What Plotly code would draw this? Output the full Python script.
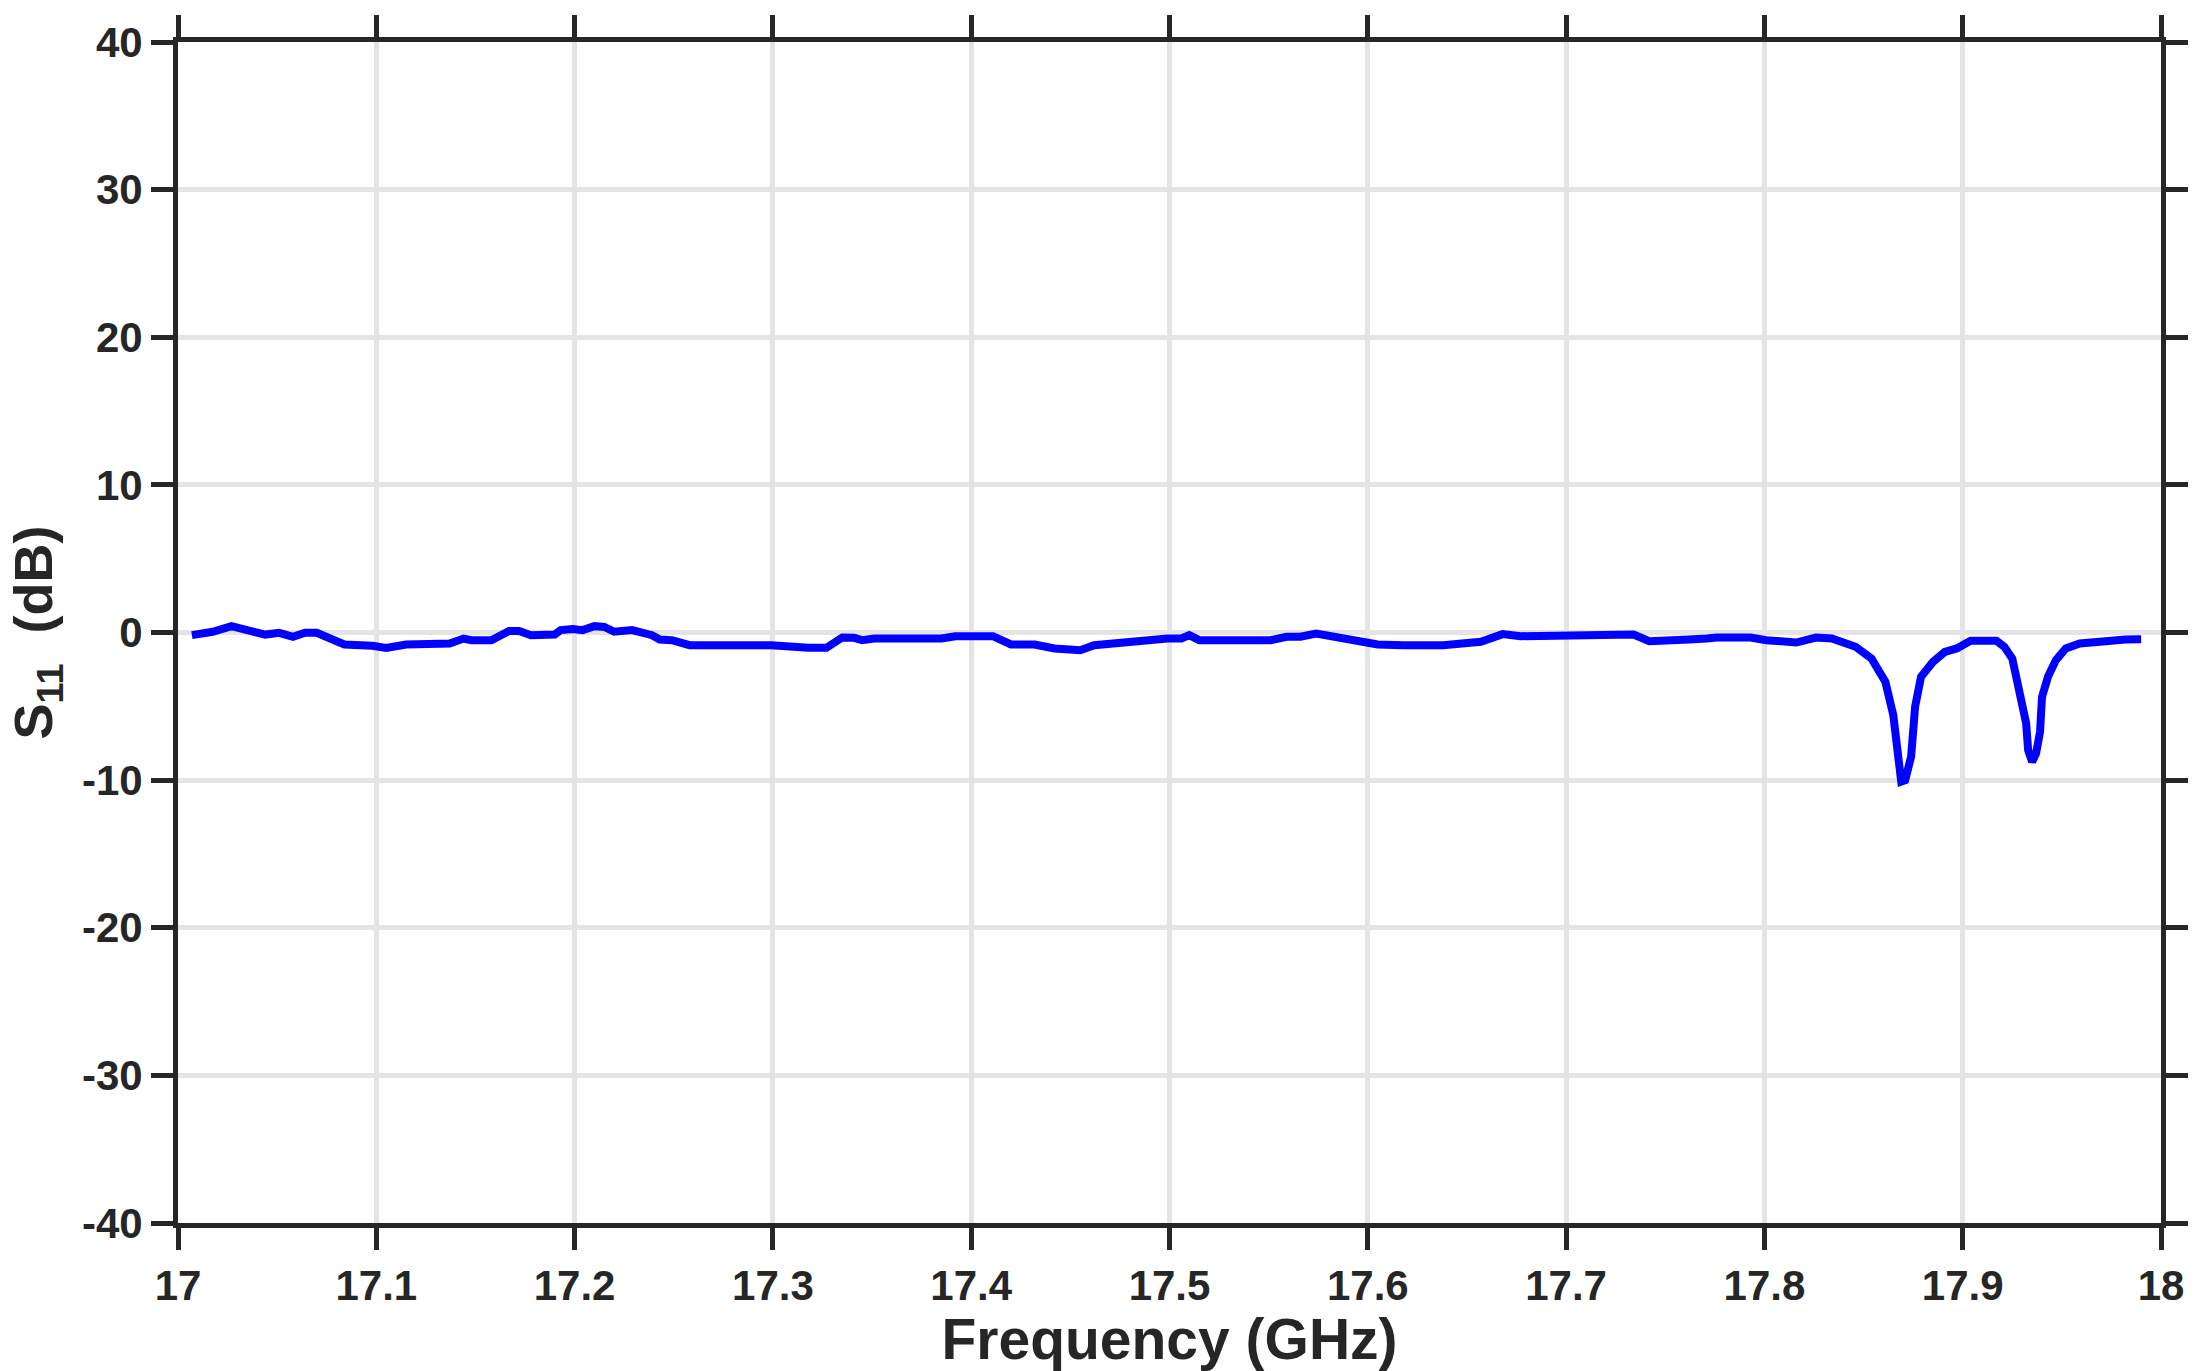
import plotly.graph_objects as go

freq_ghz = [
    17.007, 17.0175, 17.027, 17.036, 17.044, 17.051, 17.058, 17.064, 17.070, 17.080,
    17.084, 17.098, 17.105, 17.115, 17.137, 17.144, 17.148, 17.158, 17.167, 17.172,
    17.178, 17.190, 17.193, 17.199, 17.204, 17.210, 17.215, 17.220, 17.229, 17.239,
    17.243, 17.249, 17.258, 17.299, 17.308, 17.318, 17.327, 17.335, 17.341, 17.345,
    17.351, 17.385, 17.392, 17.411, 17.420, 17.432, 17.442, 17.449, 17.455, 17.462,
    17.474, 17.484, 17.492, 17.499, 17.506, 17.510, 17.515, 17.551, 17.559, 17.566,
    17.574, 17.590, 17.596, 17.605, 17.618, 17.638, 17.657, 17.668, 17.677, 17.685,
    17.694, 17.734, 17.742, 17.757, 17.762, 17.771, 17.776, 17.793, 17.801, 17.816,
    17.821, 17.826, 17.834, 17.846, 17.854, 17.861, 17.865, 17.867, 17.869, 17.871,
    17.874, 17.876, 17.879, 17.885, 17.891, 17.897, 17.904, 17.917, 17.921, 17.925,
    17.928, 17.932, 17.933, 17.935, 17.937, 17.939, 17.940, 17.943, 17.947, 17.952,
    17.959, 17.969, 17.975, 17.982, 17.990,
]
s11_db = [
    -0.18, 0.05, 0.43, 0.20, -0.14, -0.02, -0.29, -0.02, -0.02, -0.59,
    -0.81, -0.90, -1.04, -0.81, -0.74, -0.41, -0.52, -0.52, 0.11, 0.11,
    -0.18, -0.14, 0.16, 0.23, 0.16, 0.43, 0.38, 0.05, 0.16, -0.18,
    -0.47, -0.52, -0.86, -0.86, -0.97, -1.04, -1.04, -0.34, -0.36, -0.52,
    -0.41, -0.41, -0.25, -0.25, -0.81, -0.81, -1.08, -1.20, -1.20, -0.86,
    -0.70, -0.52, -0.52, -0.41, -0.41, -0.18, -0.52, -0.52, -0.29, -0.29,
    -0.07, -0.47, -0.52, -0.81, -0.86, -0.86, -0.63, -0.11, -0.25, -0.25,
    -0.14, -0.14, -0.59, -0.59, -0.47, -0.41, -0.34, -0.34, -0.52, -0.68,
    -0.47, -0.34, -0.41, -0.97, -1.76, -3.34, -5.60, -7.97, -10.1, -10.0,
    -8.40, -5.03, -3.00, -1.99, -1.31, -1.08, -0.56, -0.56, -0.97, -1.76,
    -3.68, -6.16, -7.97, -8.76, -8.19, -6.73, -4.36, -3.00, -1.87, -1.08,
    -0.74, -0.56, -0.56, -0.47, -0.45,
]

x_ticks = [17, 17.1, 17.2, 17.3, 17.4, 17.5, 17.6, 17.7, 17.8, 17.9, 18]
y_ticks = [-40, -30, -20, -10, 0, 10, 20, 30, 40]

ink = '#262626'
grid = '#e4e4e4'
font_family = 'Liberation Sans, Arial, sans-serif'

fig = go.Figure()

fig.add_trace(go.Scatter(
    x=freq_ghz,
    y=s11_db,
    mode='lines',
    line=dict(color='#0000ff', width=8),
    showlegend=False
))

axis_style = dict(
    showline=True,
    linecolor=ink,
    linewidth=5,
    mirror='ticks',
    ticks='outside',
    ticklen=22,
    tickwidth=5,
    tickcolor=ink,
    showgrid=True,
    gridcolor=grid,
    gridwidth=5,
    zeroline=False,
    tickfont=dict(family=font_family, size=42, color=ink, weight='bold'),
)

fig.update_xaxes(
    range=[17, 18],
    tickvals=x_ticks,
    ticktext=[f'{t:g}' for t in x_ticks],
    title=dict(text='<b>Frequency (GHz)</b>', standoff=6,
               font=dict(family=font_family, size=57, color=ink)),
    **axis_style
)
fig.update_yaxes(
    range=[-40, 40],
    tickvals=y_ticks,
    ticktext=[str(t) for t in y_ticks],  # plain hyphen minus like the original
    **axis_style
)

# y title as an annotation so it can sit closer to the page edge
fig.add_annotation(
    text='<b>S<sub>11</sub>  (dB)</b>',
    xref='paper', yref='paper', x=0, y=0.5,
    xshift=-142, xanchor='center', yanchor='middle',
    textangle=-90, showarrow=False,
    font=dict(family=font_family, size=54, color=ink)
)

# page body has an 8px margin, so the figure is a bit smaller than the window
fig.update_layout(
    width=2189,
    height=1363,
    margin=dict(l=170, r=36, t=34, b=148, autoexpand=False),
    plot_bgcolor='white',
    paper_bgcolor='white',
)

fig.write_html("out.html")
